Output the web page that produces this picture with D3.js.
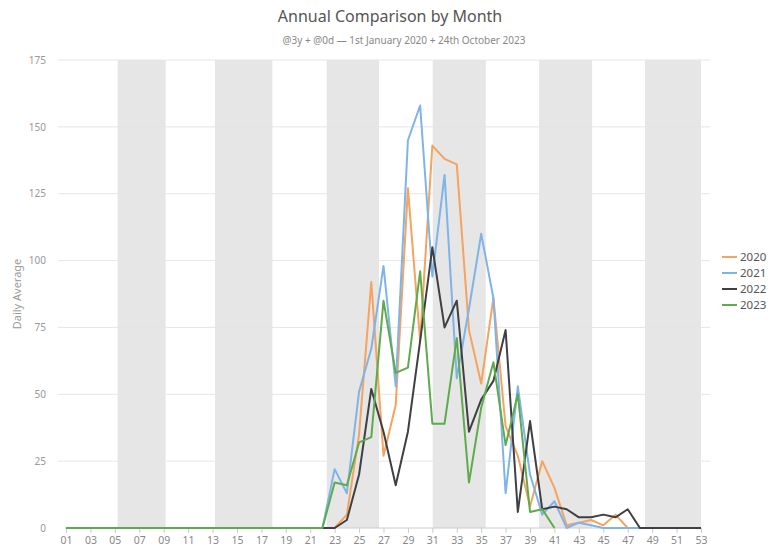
<!DOCTYPE html>
<html>
<head>
<meta charset="utf-8">
<script src="https://cdn.jsdelivr.net/npm/d3@7"></script>
<style>
    body { margin: 0; background: #fff; }
    text { font-family: "Noto Sans", "Open Sans", sans-serif; }
</style>
</head>
<body>
<div id="chart"></div>
<script>
// week numbers along the x axis
var weeks = d3.range(1, 54);
var tickWeeks = weeks.filter(function(w) { return w % 2 == 1; });
var yTicks = [0, 25, 50, 75, 100, 125, 150, 175];

// daily average per week, one array per year
var years = ["2020", "2021", "2022", "2023"];
var v2020 = [0,0,0,0,0,0,0,0,0,0,0,0,0,0,0,0,0,0,0,0,0,0,0,
    5,35,92,27,46,127,70,143,138,136,74,54,86,38,27,8,25,15,1,2,3,1,5,0,
    0,0,0,0,0,0];
var v2021 = [0,0,0,0,0,0,0,0,0,0,0,0,0,0,0,0,0,0,0,0,0,0,
    22,13,51,67,98,53,145,158,94,132,56,82,110,86,13,53,20,5,10,0,2,1,0,0,0,
    0,0,0,0,0,0];
var v2022 = [0,0,0,0,0,0,0,0,0,0,0,0,0,0,0,0,0,0,0,0,0,0,0,
    3,20,52,36,16,36,70,105,75,85,36,48,55,74,6,40,7,8,7,4,4,5,4,7,0,
    0,0,0,0,0];
var v2023 = [0,0,0,0,0,0,0,0,0,0,0,0,0,0,0,0,0,0,0,0,0,0,
    17,16,32,34,85,58,60,96,39,39,71,17,45,62,31,50,6,7,0];

// month boundaries in week units (shaded every other month)
var monthBands = [[5.23, 9.16], [13.2, 17.9], [22.35, 26.63], [31.03, 35.37], [39.74, 44.08], [48.42, 53]];

var colors = ["#f5a35e", "#7fb4e8", "#3f3f44", "#5eab4c"];

var width = 771, height = 552;
var margin = {top: 60, right: 70, bottom: 24, left: 66};

var svg = d3.select("#chart")
    .append("svg")
        .attr("width", width)
        .attr("height", height);

var x = d3.scaleLinear()
    .domain([1, 53])
    .range([66, 701]);

var y = d3.scaleLinear()
    .domain([0, 175])
    .range([528, 60]);

// shaded month bands
svg.selectAll(".band")
    .data(monthBands)
    .enter()
    .append("rect")
    .attr("class", "band")
    .attr("x", function(d) { return x(d[0]); })
    .attr("width", function(d) { return x(d[1]) - x(d[0]); })
    .attr("y", y(175))
    .attr("height", y(0) - y(175))
    .style("fill", "#e6e6e6");

// horizontal grid lines
svg.selectAll(".grid")
    .data(yTicks.filter(function(t) { return t > 0; }))
    .enter()
    .append("line")
    .attr("class", "grid")
    .attr("x1", 58)
    .attr("x2", 710)
    .attr("y1", function(d) { return y(d); })
    .attr("y2", function(d) { return y(d); })
    .style("stroke", "#e6e6e6")
    .style("stroke-width", 1);

// y axis labels
var yAxis = svg.append("g")
    .attr("transform", "translate(58,0)")
    .call(d3.axisLeft(y).tickValues(yTicks).tickSize(0).tickPadding(12));
yAxis.select(".domain").remove();
yAxis.selectAll("text")
    .style("font-size", "10px")
    .style("fill", "#999");

// x axis
var xAxis = svg.append("g")
    .attr("transform", "translate(0," + y(0) + ")")
    .call(d3.axisBottom(x)
        .tickValues(tickWeeks)
        .tickSize(5)
        .tickPadding(4)
        .tickFormat(function(d) { return d3.format("02d")(d); }));
xAxis.select(".domain")
    .attr("d", "M" + (x(1) - 1) + ",0H" + x(53))
    .style("stroke", "#ccc");
xAxis.selectAll(".tick line").style("stroke", "#ccc");
xAxis.selectAll("text")
    .style("font-size", "10.5px")
    .style("fill", "#888");

// the four year lines
var line = d3.line()
    .x(function(d, i) { return x(weeks[i]); })
    .y(function(d) { return y(d); });

var series = [v2020, v2021, v2022, v2023];

svg.selectAll(".yearLine")
    .data(series)
    .enter()
    .append("path")
    .attr("class", "yearLine")
    .attr("d", line)
    .style("fill", "none")
    .style("stroke", function(d, i) { return colors[i]; })
    .style("stroke-width", 2)
    .style("stroke-linejoin", "round");

// titles
svg.append("text")
    .attr("x", 390)
    .attr("y", 22)
    .attr("text-anchor", "middle")
    .style("font-size", "16px")
    .style("fill", "#555")
    .text("Annual Comparison by Month");

svg.append("text")
    .attr("x", 404)
    .attr("y", 44)
    .attr("text-anchor", "middle")
    .style("font-size", "10px")
    .style("fill", "#888")
    .text("@3y + @0d  \u2014  1st January 2020 + 24th October 2023");

svg.append("text")
    .attr("transform", "translate(21," + 294 + ") rotate(-90)")
    .attr("text-anchor", "middle")
    .style("font-size", "11px")
    .style("fill", "#999")
    .text("Daily Average");

// legend
var legend = svg.selectAll(".legend")
    .data(years)
    .enter()
    .append("g")
    .attr("class", "legend")
    .attr("transform", function(d, i) { return "translate(722," + (257 + i * 16) + ")"; });
legend.append("line")
    .attr("x1", 0)
    .attr("x2", 15)
    .style("stroke", function(d, i) { return colors[i]; })
    .style("stroke-width", 2);
legend.append("text")
    .attr("x", 18)
    .attr("y", 4)
    .style("font-size", "11.5px")
    .style("fill", "#555")
    .text(function(d) { return d; });
</script>
</body>
</html>
